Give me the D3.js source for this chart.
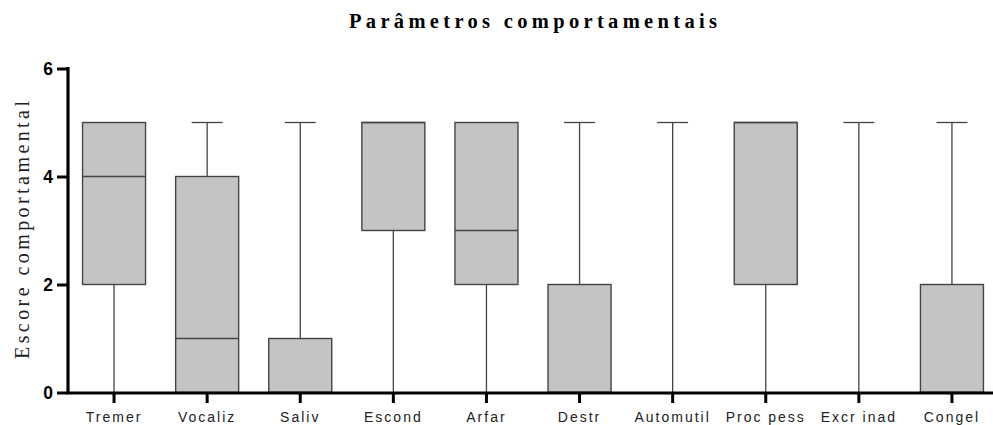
<!DOCTYPE html>
<html><head><meta charset="utf-8">
<script src="https://cdn.jsdelivr.net/npm/d3@7"></script>
<style>body{margin:0;background:#fff}svg{display:block}</style>
</head><body>
<svg id="c" width="993" height="425"></svg>
<script>
const categories = ["Tremer","Vocaliz","Saliv","Escond","Arfar","Destr","Automutil","Proc pess","Excr inad","Congel"];
const minVals    = [0,0,0,0,0,0,0,0,0,0];
const q1Vals     = [2,0,0,3,2,0,0,2,0,0];
const medianVals = [4,1,0,5,3,0,0,5,0,0];
const q3Vals     = [5,4,1,5,5,2,0,5,0,2];
const maxVals    = [5,5,5,5,5,5,5,5,5,5];
const yTicks = [0,2,4,6];
const title = "Parâmetros comportamentais";
const yLabel = "Escore comportamental";

const data = categories.map((c,i)=>({c, min:minVals[i], q1:q1Vals[i], med:medianVals[i], q3:q3Vals[i], max:maxVals[i]}));

const svg = d3.select("#c");
const x = d3.scaleBand().domain(categories).range([67.5, 998.5]).padding(0);
const y = d3.scaleLinear().domain([0,6]).range([392.5, 68.5]);
const step = x.step();
const boxW = 63, capW = 31;
const stroke = "#444";

const g = svg.append("g");
data.forEach(d=>{
  const cx = x(d.c) + step/2;
  const gg = g.append("g");
  if (d.max > d.q3) {
    gg.append("line").attr("x1",cx).attr("x2",cx).attr("y1",y(d.q3)).attr("y2",y(d.max)).attr("stroke",stroke).attr("stroke-width",1.3);
    gg.append("line").attr("x1",cx-capW/2).attr("x2",cx+capW/2).attr("y1",y(d.max)).attr("y2",y(d.max)).attr("stroke",stroke).attr("stroke-width",1.3);
  }
  if (d.q1 > d.min) {
    gg.append("line").attr("x1",cx).attr("x2",cx).attr("y1",y(d.min)).attr("y2",y(d.q1)).attr("stroke",stroke).attr("stroke-width",1.3);
  }
  if (d.q3 > d.q1) {
    gg.append("rect").attr("x",cx-boxW/2).attr("y",y(d.q3)).attr("width",boxW).attr("height",y(d.q1)-y(d.q3))
      .attr("fill","#c4c4c4").attr("stroke",stroke).attr("stroke-width",1.4);
    gg.append("line").attr("x1",cx-boxW/2).attr("x2",cx+boxW/2).attr("y1",y(d.med)).attr("y2",y(d.med)).attr("stroke",stroke).attr("stroke-width",1.4);
  }
});

// Axes
const yAxis = d3.axisLeft(y).tickValues(yTicks).tickSize(11).tickPadding(4).tickFormat(d3.format("d"));
const ya = svg.append("g").attr("transform","translate(68,0)").call(yAxis);
ya.select(".domain").attr("stroke","#000").attr("stroke-width",3.2).attr("d","M0,"+(y(6)-1.5)+"V"+(y(0)+1.5));
ya.selectAll(".tick line").attr("stroke","#000").attr("stroke-width",3);
ya.selectAll(".tick text").attr("font-family","Liberation Sans, Arial, sans-serif").attr("font-weight","bold").attr("font-size",17.5).attr("fill","#000");

const xAxis = d3.axisBottom(x).tickSize(10).tickPadding(9);
const xa = svg.append("g").attr("transform","translate(0,393)").call(xAxis);
xa.select(".domain").attr("stroke","#000").attr("stroke-width",3).attr("d","M66.5,0H998");
xa.selectAll(".tick line").attr("stroke","#000").attr("stroke-width",3);
xa.selectAll(".tick text").attr("font-family","Liberation Sans, Arial, sans-serif").attr("font-size",14).attr("letter-spacing","2px").attr("fill","#222");

// Title
svg.append("text").attr("x",533).attr("y",28).attr("text-anchor","middle")
  .attr("font-family","Liberation Serif, Times New Roman, serif").attr("font-weight","bold").attr("font-size",20.5)
  .attr("textLength",368).attr("lengthAdjust","spacing")
  .attr("fill","#000").text(title);

// Y label
svg.append("text").attr("transform","translate(29,230) rotate(-90)").attr("text-anchor","middle")
  .attr("font-family","Liberation Serif, Times New Roman, serif").attr("font-size",20)
  .attr("textLength",258).attr("lengthAdjust","spacing")
  .attr("fill","#222").text(yLabel);
</script>
</body></html>
